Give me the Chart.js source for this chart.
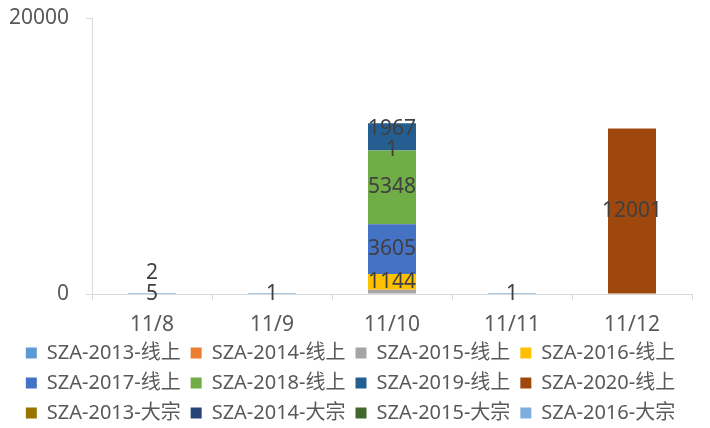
<!DOCTYPE html>
<html>
<head>
<meta charset="utf-8">
<script src="https://cdn.jsdelivr.net/npm/chart.js@4"></script>
<style>
  html, body { margin: 0; padding: 0; background: #fff; }
  #wrap { width: 710px; height: 428px; }
</style>
</head>
<body>
<div id="wrap"><canvas id="salesChart" width="710" height="428"></canvas></div>
<script>
const categories = ["11/8", "11/9", "11/10", "11/11", "11/12"];
const yTicks = [0, 20000];

const seriesNames = [
  "SZA-2013-线上", "SZA-2014-线上", "SZA-2015-线上", "SZA-2016-线上",
  "SZA-2017-线上", "SZA-2018-线上", "SZA-2019-线上", "SZA-2020-线上",
  "SZA-2013-大宗", "SZA-2014-大宗", "SZA-2015-大宗", "SZA-2016-大宗"
];
const seriesColors = [
  "#5B9BD5", "#ED7D31", "#A5A5A5", "#FFC000",
  "#4472C4", "#70AD47", "#255E91", "#9E480E",
  "#997300", "#264478", "#43682B", "#7CAFDD"
];

// one array per series, same order as seriesNames
const online2013 = [5, 1, 0, 1, 0];
const online2014 = [2, 0, 0, 0, 0];
const online2015 = [0, 0, 300, 0, 0];
const online2016 = [0, 0, 1144, 0, 0];
const online2017 = [0, 0, 3605, 0, 0];
const online2018 = [0, 0, 5348, 0, 0];
const online2019 = [0, 0, 1967, 0, 0];
const online2020 = [0, 0, 1, 0, 12001];
const bulk2013 = [0, 0, 0, 0, 0];
const bulk2014 = [0, 0, 0, 0, 0];
const bulk2015 = [0, 0, 0, 0, 0];
const bulk2016 = [0, 0, 0, 0, 0];

const seriesValues = [
  online2013, online2014, online2015, online2016,
  online2017, online2018, online2019, online2020,
  bulk2013, bulk2014, bulk2015, bulk2016
];
const noLabelSeries = ["SZA-2015-线上"];
const stackOnTop = ["SZA-2019-线上"];

const FONT = "'Noto Sans', 'Noto Sans CJK SC', sans-serif";

// value labels in the middle of each segment, pushed up if they collide
const stackLabels = {
  id: "stackLabels",
  afterDatasetsDraw(chart) {
    const ctx = chart.ctx;
    const lastY = {};
    ctx.save();
    ctx.font = "21px " + FONT;
    ctx.fillStyle = "#404040";
    ctx.textAlign = "center";
    ctx.textBaseline = "middle";
    chart.getSortedVisibleDatasetMetas().forEach((meta) => {
      const ds = chart.data.datasets[meta.index];
      if (noLabelSeries.includes(ds.label)) return;
      meta.data.forEach((bar, j) => {
        const v = ds.data[j];
        if (!v) return;
        let y = (bar.y + bar.base) / 2;
        if (lastY[j] !== undefined && lastY[j] - y < 21) y = lastY[j] - 21;
        lastY[j] = y;
        ctx.fillText(String(v), bar.x, y);
      });
    });
    ctx.restore();
  }
};

function buildDatasets() {
  return seriesNames.map((name, i) => ({
    label: name,
    data: seriesValues[i],
    backgroundColor: seriesColors[i],
    borderWidth: 0,
    barPercentage: 1,
    categoryPercentage: 0.4,
    order: stackOnTop.includes(name) ? 1 : 0
  }));
}

function renderChart() {
  const canvas = document.getElementById("salesChart");
  if (!canvas) return;
  const ctx = canvas.getContext("2d");

  new Chart(ctx, {
    type: "bar",
    data: { labels: categories, datasets: buildDatasets() },
    plugins: [stackLabels],
    options: {
      responsive: false,
      animation: false,
      layout: { padding: { left: 9, right: 18, top: 18, bottom: -5 } },
      plugins: {
        tooltip: { enabled: false },
        legend: {
          position: "bottom",
          labels: {
            boxWidth: 11,
            boxHeight: 11,
            padding: 10,
            color: "#595959",
            font: { family: FONT, size: 20 },
            sort: (a, b) => a.datasetIndex - b.datasetIndex
          }
        }
      },
      scales: {
        x: {
          stacked: true,
          afterFit: (axis) => { axis.height = 39; },
          grid: { offset: true, drawOnChartArea: false, tickLength: 6, color: "#D9D9D9" },
          border: { color: "#D9D9D9" },
          ticks: { color: "#595959", padding: 14.5, font: { family: FONT, size: 21, lineHeight: 1 } }
        },
        y: {
          stacked: true,
          min: yTicks[0],
          max: yTicks[yTicks.length - 1],
          afterBuildTicks: (axis) => { axis.ticks = yTicks.map(v => ({ value: v })); },
          afterFit: (axis) => { axis.width = 83; axis.paddingTop = 0; axis.paddingBottom = 0; },
          grid: { drawOnChartArea: false, tickLength: 6, color: "#D9D9D9" },
          border: { color: "#D9D9D9" },
          ticks: {
            color: "#595959", padding: 17, font: { family: FONT, size: 21 },
            callback: (v) => String(v)
          }
        }
      }
    }
  });
}

window.addEventListener("load", renderChart);
</script>
</body>
</html>
